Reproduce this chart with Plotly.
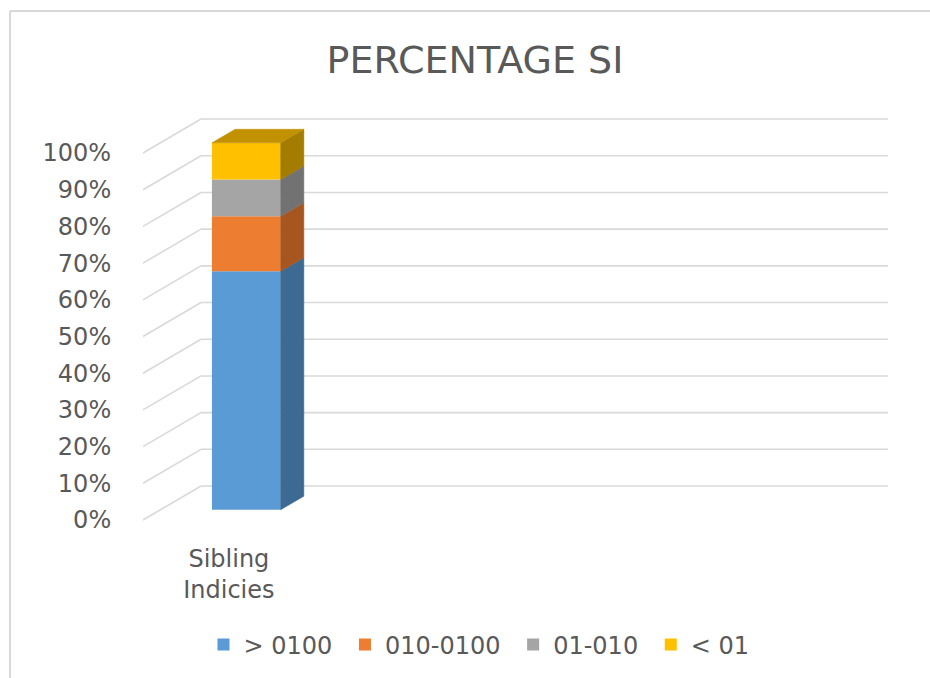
import plotly.graph_objects as go

# ---- data ----
categories = ["Sibling Indicies"]
series_names = ["> 0100", "010-0100", "01-010", "< 01"]
series_values = [65, 15, 10, 10]          # percent of the stacked column
tick_values = [0, 10, 20, 30, 40, 50, 60, 70, 80, 90, 100]
tick_labels = [f"{v}%" for v in tick_values]

front_colors = ["#5B9BD5", "#ED7D31", "#A5A5A5", "#FFC000"]
side_colors = ["#3D6A93", "#A8561F", "#727272", "#A37C00"]
top_color = "#C19100"

# ---- pseudo-3D projection parameters ----
DX = 0.338      # depth offset along x (category units)
DY = 9.26       # depth offset along y (percent units)
BAR_W = 0.4     # column width (category units)
Z_FRONT, Z_BACK = 0.3, 0.7
X_MIN, X_MAX = -0.5, 3.838

FONT = "DejaVu Sans"
TXT = "#595959"
GRID = "#D9D9D9"

fig = go.Figure()

# gridlines: diagonal wall part + horizontal back part
shapes = []
for v in tick_values:
    shapes.append(dict(type="line", xref="x", yref="y", layer="below",
                       x0=X_MIN, y0=v, x1=X_MIN + DX, y1=v + DY,
                       line=dict(color=GRID, width=1.6)))
    shapes.append(dict(type="line", xref="x", yref="y", layer="below",
                       x0=X_MIN + DX, y0=v + DY, x1=X_MAX, y1=v + DY,
                       line=dict(color=GRID, width=1.6)))

# chart border (left and top edges)
plot_l, plot_r, plot_t, plot_b = 143, 42, 98, 147
W, H = 930, 678
pw, ph = W - plot_l - plot_r, H - plot_t - plot_b
def px_to_paper_x(px):
    return (px - plot_l) / pw
def px_to_paper_y(py):
    return (H - plot_b - py) / ph
shapes.append(dict(type="line", xref="paper", yref="paper", layer="below",
                   x0=px_to_paper_x(10), y0=px_to_paper_y(11),
                   x1=px_to_paper_x(10), y1=px_to_paper_y(H + 5),
                   line=dict(color=GRID, width=2)))
shapes.append(dict(type="line", xref="paper", yref="paper", layer="below",
                   x0=px_to_paper_x(10), y0=px_to_paper_y(11),
                   x1=px_to_paper_x(W + 5), y1=px_to_paper_y(11),
                   line=dict(color=GRID, width=2)))

# stacked column: front faces as bars, side/top faces as filled polygons
x0 = 0
base = 0
for name, val, fc, sc in zip(series_names, series_values, front_colors, side_colors):
    fig.add_trace(go.Bar(
        x=[x0 + Z_FRONT * DX], y=[val], base=[base + Z_FRONT * DY],
        width=BAR_W, name=name + "\u00a0", marker=dict(color=fc, line=dict(width=0)),
        hoverinfo="skip"))
    lo, hi = base, base + val
    xr = x0 + BAR_W / 2
    fig.add_trace(go.Scatter(
        x=[xr + Z_FRONT * DX, xr + Z_BACK * DX, xr + Z_BACK * DX, xr + Z_FRONT * DX, xr + Z_FRONT * DX],
        y=[lo + Z_FRONT * DY, lo + Z_BACK * DY, hi + Z_BACK * DY, hi + Z_FRONT * DY, lo + Z_FRONT * DY],
        fill="toself", fillcolor=sc, mode="lines", line=dict(color=sc, width=0.5),
        showlegend=False, hoverinfo="skip"))
    base = hi

xl, xr = x0 - BAR_W / 2, x0 + BAR_W / 2
fig.add_trace(go.Scatter(
    x=[xl + Z_FRONT * DX, xr + Z_FRONT * DX, xr + Z_BACK * DX, xl + Z_BACK * DX, xl + Z_FRONT * DX],
    y=[base + Z_FRONT * DY, base + Z_FRONT * DY, base + Z_BACK * DY, base + Z_BACK * DY, base + Z_FRONT * DY],
    fill="toself", fillcolor=top_color, mode="lines", line=dict(color=top_color, width=0.5),
    showlegend=False, hoverinfo="skip"))

fig.update_layout(
    width=W, height=H,
    margin=dict(l=plot_l, r=plot_r, t=plot_t, b=plot_b),
    paper_bgcolor="white", plot_bgcolor="white",
    barmode="overlay",
    shapes=shapes,
    title=dict(text="PERCENTAGE SI", font=dict(family=FONT, size=38, color=TXT),
               x=475 / W, xref="container", xanchor="center",
               y=1 - 60 / H, yref="container", yanchor="middle"),
    xaxis=dict(range=[X_MIN, X_MAX], tickvals=[0],
               ticktext=["<br>".join(categories[0].split(" "))],
               showgrid=False, zeroline=False, showline=False,
               ticks="outside", ticklen=6, tickcolor="rgba(0,0,0,0)",
               tickfont=dict(family=FONT, size=24, color=TXT)),
    yaxis=dict(range=[-3, 115], tickvals=tick_values, ticktext=tick_labels,
               showgrid=False, zeroline=False, showline=False,
               ticks="outside", ticklen=26, tickcolor="rgba(0,0,0,0)",
               tickfont=dict(family=FONT, size=24, color=TXT)),
    legend=dict(orientation="h", xref="container", yref="container",
                x=483 / W, xanchor="center", y=1 - 645 / H, yanchor="middle",
                font=dict(family=FONT, size=24, color=TXT)),
    showlegend=True,
)

fig.write_html("out.html")
